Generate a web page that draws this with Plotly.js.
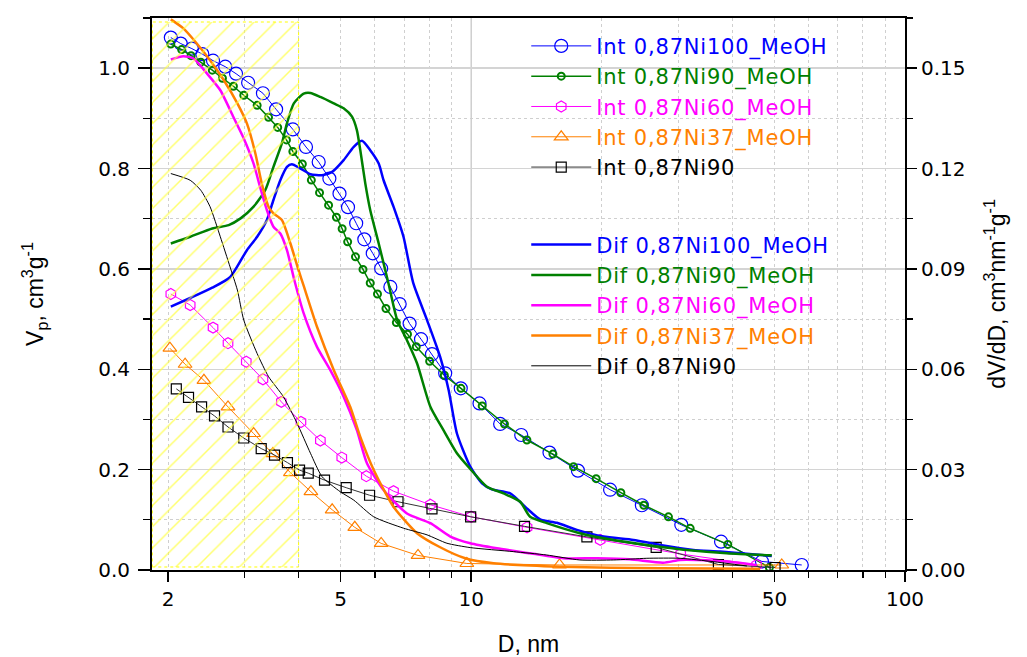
<!DOCTYPE html>
<html>
<head>
<meta charset="utf-8">
<script src="https://cdn.plot.ly/plotly-3.0.1.min.js"></script>
<style>html,body{margin:0;padding:0;background:#fff;}#chart{width:1027px;height:657px;}</style>
</head>
<body>
<div id="chart"></div>
<script>
// ---------- Cumulative (Int) pore volume, cm3/g ----------
const intNi100MeOH_D = [2.03,2.14,2.27,2.40,2.54,2.71,2.87,3.06,3.31,3.55,3.88,4.16,4.45,4.71,4.97,5.20,5.43,5.67,5.93,6.20,6.51,6.84,7.21,7.66,8.12,8.71,9.46,10.45,11.66,13.04,15.15,17.62,20.9,24.74,30.5,37.67,46.8,57.8];
const intNi100MeOH_V = [1.061,1.049,1.039,1.028,1.015,1.003,0.989,0.971,0.950,0.918,0.878,0.843,0.813,0.780,0.750,0.723,0.691,0.659,0.631,0.601,0.564,0.530,0.491,0.460,0.430,0.392,0.362,0.332,0.291,0.269,0.234,0.198,0.160,0.129,0.090,0.0564,0.017,0.010];

const intNi90MeOH_D = [2.03,2.15,2.26,2.38,2.53,2.67,2.83,2.99,3.21,3.41,3.58,3.75,3.88,4.08,4.28,4.47,4.69,4.89,5.04,5.19,5.41,5.63,5.85,6.08,6.36,6.72,7.13,7.47,8.02,8.67,9.47,10.60,11.93,13.44,15.43,17.21,19.41,22.13,25.0,28.49,31.97,39.04,48.68];
const intNi90MeOH_V = [1.048,1.037,1.025,1.012,0.996,0.980,0.964,0.946,0.926,0.902,0.882,0.857,0.834,0.809,0.777,0.752,0.727,0.703,0.680,0.654,0.624,0.599,0.572,0.550,0.521,0.493,0.470,0.445,0.416,0.388,0.362,0.327,0.291,0.259,0.231,0.206,0.182,0.154,0.129,0.106,0.083,0.051,0.005];

const intNi60MeOH_D = [2.03,2.25,2.54,2.75,3.03,3.31,3.65,4.05,4.49,5.03,5.73,6.62,8.05,10.0,13.45,19.83,30.4,45.5];
const intNi60MeOH_V = [0.550,0.528,0.483,0.452,0.415,0.380,0.335,0.295,0.258,0.224,0.187,0.157,0.130,0.106,0.085,0.060,0.032,0.010];

const intNi37MeOH_D = [2.02,2.19,2.42,2.75,3.15,3.49,3.83,4.27,4.78,5.39,6.20,7.54,9.77,15.98,51.98];
const intNi37MeOH_V = [0.442,0.410,0.378,0.325,0.272,0.232,0.194,0.156,0.120,0.085,0.053,0.029,0.013,0.010,0.010];

const intNi90_D = [2.09,2.23,2.39,2.56,2.75,2.99,3.28,3.52,3.77,4.02,4.21,4.59,5.15,5.83,6.78,8.12,9.97,13.27,18.48,26.69,37.14,50.17];
const intNi90_V = [0.361,0.344,0.325,0.307,0.285,0.263,0.242,0.229,0.214,0.199,0.193,0.179,0.164,0.149,0.136,0.122,0.106,0.087,0.066,0.045,0.011,0.005];

// ---------- Differential (Dif) dV/dD, cm3 nm-1 g-1 ----------
const difNi100MeOH_D = [2.03,2.25,2.53,2.78,3.04,3.21,3.38,3.50,3.63,3.76,3.86,4.04,4.26,4.53,4.78,5.08,5.36,5.60,5.85,6.12,6.28,6.62,6.98,7.35,7.91,8.48,8.87,9.27,9.95,10.59,11.16,12.30,13.44,14.42,15.76,17.52,20.17,23.66,27.26,32.52,37.47,49.3];
const difNi100MeOH_dV = [0.0787,0.0813,0.0844,0.0875,0.0956,0.0996,0.1046,0.1106,0.1165,0.1205,0.1213,0.1200,0.1183,0.1180,0.1190,0.1225,0.1265,0.1283,0.1255,0.1215,0.1165,0.1086,0.0996,0.0858,0.0747,0.0637,0.0538,0.0408,0.0309,0.0259,0.0241,0.0229,0.0184,0.0151,0.0141,0.0120,0.0100,0.0090,0.0075,0.0060,0.0055,0.0042];

const difNi90MeOH_D = [2.03,2.25,2.53,2.76,2.94,3.15,3.35,3.50,3.66,3.76,3.90,4.11,4.26,4.49,4.82,5.08,5.31,5.45,5.55,5.70,5.85,6.12,6.45,6.75,7.11,7.50,8.05,8.63,9.27,9.95,10.87,11.87,12.97,13.67,14.94,17.8,21.66,25.40,31.41,38.83,49.3];
const difNi90MeOH_dV = [0.0976,0.0996,0.1021,0.1031,0.1051,0.1086,0.1135,0.1205,0.1275,0.1335,0.1395,0.1424,0.1426,0.1414,0.1395,0.1380,0.1355,0.1315,0.1255,0.1155,0.1076,0.0976,0.0855,0.0747,0.0687,0.0618,0.0488,0.0418,0.0349,0.0302,0.0249,0.0229,0.0204,0.0159,0.0140,0.0110,0.0088,0.0075,0.0060,0.0050,0.0044];

const difNi60MeOH_D = [2.03,2.17,2.29,2.46,2.64,2.83,2.99,3.15,3.26,3.38,3.50,3.63,3.76,3.91,4.11,4.41,4.73,5.08,5.45,5.75,6.28,7.11,8.05,8.95,9.95,11.46,13.67,16.3,19.5,23.2,27.7,30.3,33.1,39.4,45.5];
const difNi60MeOH_dV = [0.1526,0.1536,0.1529,0.1484,0.1434,0.1354,0.1290,0.1215,0.1145,0.1076,0.1026,0.1006,0.0956,0.0867,0.0767,0.0667,0.0598,0.0518,0.0418,0.0319,0.0239,0.0169,0.0140,0.0100,0.0080,0.0065,0.0050,0.0035,0.0035,0.0032,0.0022,0.0030,0.0030,0.0025,0.0015];

const difNi37MeOH_D = [2.03,2.17,2.33,2.50,2.69,2.89,3.04,3.18,3.29,3.41,3.50,3.66,3.83,4.00,4.11,4.41,4.82,5.26,5.55,5.96,6.62,7.50,8.48,9.69,11.26,16.04,27.26,46.35];
const difNi37MeOH_dV = [0.1646,0.1619,0.1574,0.1524,0.1464,0.1395,0.1335,0.1245,0.1155,0.1086,0.1066,0.1046,0.0976,0.0896,0.0849,0.0727,0.0598,0.0488,0.0398,0.0299,0.0189,0.0110,0.0068,0.0035,0.0020,0.0010,0.0005,0.0004];

const difNi90_D = [2.03,2.25,2.38,2.50,2.64,2.78,2.89,2.99,3.21,3.41,3.69,3.97,4.26,4.53,4.99,5.36,5.96,6.98,7.91,8.79,9.95,12.5,14.9,17.8,21.3,25.4,30.3,36.1,43.2];
const difNi90_dV = [0.1185,0.1165,0.1135,0.1086,0.0996,0.0906,0.0837,0.0747,0.0647,0.0578,0.0518,0.0438,0.0349,0.0279,0.0234,0.0209,0.0159,0.0125,0.0105,0.0080,0.0067,0.0055,0.0045,0.0030,0.0030,0.0035,0.0035,0.0025,0.0012];

// hatched micropore zone (D from axis start to 4 nm)
const zoneD = [1.84, 4.0, 4.0, 1.84, 1.84];
const zoneY2 = [0.0009, 0.0009, 0.1638, 0.1638, 0.0009];

// x tick labels
const xTickVals = [2, 5, 10, 50, 100];
const xTickText = ['2', '5', '10', '50', '100'];
const xMinorVals = [3,4,6,7,8,9,20,30,40,60,70,80,90];

const C = {blue:'#0000ff', green:'#008000', magenta:'#ff00ff', orange:'#ff8000', black:'#000000'};
const lbl = (t, c) => '<span style="color:' + c + ';letter-spacing:0.8px">' + t + '</span>';

const traces = [
  {x:intNi100MeOH_D, y:intNi100MeOH_V, name:lbl('Int 0,87Ni100_MeOH', C.blue), mode:'lines+markers', yaxis:'y', legend:'legend',
   line:{color:C.blue, width:1}, marker:{symbol:'circle-open', size:13, color:C.blue, line:{width:1.2, color:C.blue}}},
  {x:intNi90MeOH_D, y:intNi90MeOH_V, name:lbl('Int 0,87Ni90_MeOH', C.green), mode:'lines+markers', yaxis:'y', legend:'legend',
   line:{color:C.green, width:1.5}, marker:{symbol:'circle-open', size:7, color:C.green, line:{width:2, color:C.green}}},
  {x:intNi60MeOH_D, y:intNi60MeOH_V, name:lbl('Int 0,87Ni60_MeOH', C.magenta), mode:'lines+markers', yaxis:'y', legend:'legend',
   line:{color:C.magenta, width:1}, marker:{symbol:'hexagon-open', size:11, color:C.magenta, line:{width:1.2, color:C.magenta}}},
  {x:intNi37MeOH_D, y:intNi37MeOH_V, name:lbl('Int 0,87Ni37_MeOH', C.orange), mode:'lines+markers', yaxis:'y', legend:'legend',
   line:{color:C.orange, width:1}, marker:{symbol:'triangle-up-open', size:12, color:C.orange, line:{width:1.2, color:C.orange}}},
  {x:intNi90_D, y:intNi90_V, name:lbl('Int 0,87Ni90', C.black), mode:'lines+markers', yaxis:'y', legend:'legend',
   line:{color:'#333333', width:1}, marker:{symbol:'square-open', size:10, color:'#000', line:{width:1.2, color:'#000'}}},

  {x:difNi100MeOH_D, y:difNi100MeOH_dV, name:lbl('Dif 0,87Ni100_MeOH', C.blue), mode:'lines', yaxis:'y2', legend:'legend2',
   line:{color:C.blue, width:2.5, shape:'spline', smoothing:0.6}},
  {x:difNi90MeOH_D, y:difNi90MeOH_dV, name:lbl('Dif 0,87Ni90_MeOH', C.green), mode:'lines', yaxis:'y2', legend:'legend2',
   line:{color:C.green, width:2.5, shape:'spline', smoothing:0.6}},
  {x:difNi60MeOH_D, y:difNi60MeOH_dV, name:lbl('Dif 0,87Ni60_MeOH', C.magenta), mode:'lines', yaxis:'y2', legend:'legend2',
   line:{color:C.magenta, width:2.5, shape:'spline', smoothing:0.6}},
  {x:difNi37MeOH_D, y:difNi37MeOH_dV, name:lbl('Dif 0,87Ni37_MeOH', C.orange), mode:'lines', yaxis:'y2', legend:'legend2',
   line:{color:C.orange, width:2.5, shape:'spline', smoothing:0.6}},
  {x:difNi90_D, y:difNi90_dV, name:lbl('Dif 0,87Ni90', C.black), mode:'lines', yaxis:'y2', legend:'legend2',
   line:{color:C.black, width:1, shape:'spline', smoothing:0.6}},

  {x:zoneD, y:zoneY2, yaxis:'y2', mode:'lines', fill:'toself', showlegend:false, hoverinfo:'skip',
   fillcolor:'rgba(0,0,0,0)', line:{color:'#ffff00', width:1, dash:'dot'},
   fillpattern:{shape:'/', fgcolor:'rgba(255,255,60,0.75)', bgcolor:'rgba(0,0,0,0)', size:15, solidity:0.1}}
];

const tickFont = {family:'DejaVu Sans, Liberation Sans, Arial, sans-serif', size:20, color:'#000'};
const legFont = {family:'DejaVu Sans, Liberation Sans, Arial, sans-serif', size:21, color:'#000'};
const titleFont = {family:'Liberation Sans, Arial, sans-serif', size:23, color:'#000'};

const layout = {
  width:1027, height:657,
  margin:{l:152, r:122, t:18, b:87},
  paper_bgcolor:'#fff', plot_bgcolor:'#fff',
  font:{family:'Liberation Sans, Arial, sans-serif', size:20, color:'#000'},
  showlegend:true,
  xaxis:{
    type:'log', range:[Math.log10(1.837), 2],
    tickmode:'array', tickvals:xTickVals, ticktext:xTickText,
    ticks:'outside', ticklen:10, tickwidth:1.5, tickcolor:'#000',
    showline:true, linecolor:'#000', linewidth:2, mirror:true,
    showgrid:true, gridcolor:'#cfcfcf', gridwidth:1, griddash:'dot',
    zeroline:false, tickfont:tickFont,
    minor:{tickvals:xMinorVals, ticks:'outside', ticklen:6, tickwidth:1.2, tickcolor:'#000', showgrid:true, gridcolor:'#cfcfcf', griddash:'dot', gridwidth:1},
    title:{text:'D, nm', font:titleFont, standoff:30}
  },
  yaxis:{
    range:[0, 1.1], tickmode:'linear', tick0:0, dtick:0.2, tickformat:'.1f',
    ticks:'outside', ticklen:12, tickwidth:1.5, tickcolor:'#000',
    showline:true, linecolor:'#000', linewidth:2,
    showgrid:true, gridcolor:'#d4d4d4', gridwidth:1.5,
    zeroline:false, tickfont:tickFont, ticklabelstandoff:4,
    minor:{dtick:0.1, ticks:'outside', ticklen:7, tickwidth:1.2, tickcolor:'#000', showgrid:true, gridcolor:'#cfcfcf', griddash:'dot', gridwidth:1},
    title:{text:'V<sub>p</sub>, cm<sup>3</sup>g<sup>-1</sup>', font:titleFont, standoff:48}
  },
  yaxis2:{
    overlaying:'y', side:'right', range:[0, 0.165], tickmode:'linear', tick0:0, dtick:0.03, tickformat:'.2f',
    ticks:'outside', ticklen:10, tickwidth:1.5, tickcolor:'#000',
    showline:true, linecolor:'#000', linewidth:2,
    showgrid:false, zeroline:false, tickfont:tickFont,
    minor:{dtick:0.015, ticks:'outside', ticklen:6, tickwidth:1.2, tickcolor:'#000', showgrid:false},
    title:{text:'dV/dD, cm<sup>3</sup>nm<sup>-1</sup>g<sup>-1</sup>', font:titleFont, standoff:24}
  },
  legend:{x:0.497, y:0.986, xanchor:'left', yanchor:'top', bgcolor:'rgba(0,0,0,0)', borderwidth:0,
          font:legFont, itemwidth:60, tracegroupgap:0, traceorder:'normal'},
  legend2:{x:0.497, y:0.626, xanchor:'left', yanchor:'top', bgcolor:'rgba(0,0,0,0)', borderwidth:0,
          font:legFont, itemwidth:60, tracegroupgap:0, traceorder:'normal'},
  shapes:[
    {type:'line', xref:'x', yref:'paper', x0:10, x1:10, y0:0, y1:1, layer:'below', line:{color:'#cfcfcf', width:1.5}}
  ]
};

Plotly.newPlot('chart', traces, layout, {displayModeBar:false, staticPlot:true});
</script>
</body>
</html>
